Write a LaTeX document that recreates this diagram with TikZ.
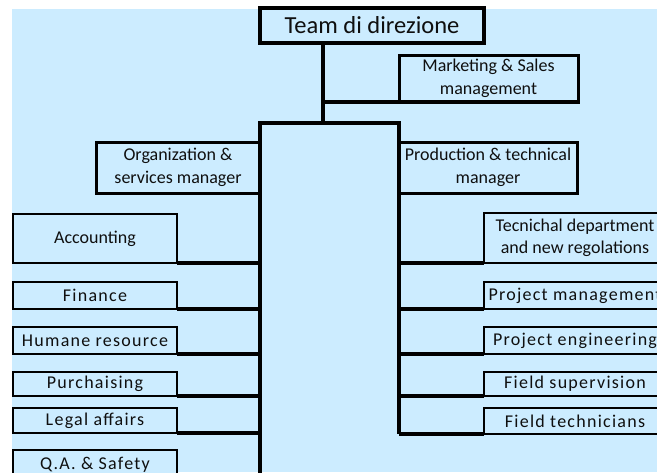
\documentclass[tikz,border=0pt]{standalone}
\usepackage{fontspec}
\setmainfont{Carlito}
\newfontfamily\spacedfont[LetterSpace=7]{Carlito}
\definecolor{bgblue}{RGB}{204,236,255}
\definecolor{ink}{RGB}{15,15,15}
\begin{document}
\begin{tikzpicture}[x=1pt,y=-1pt,
  box/.style={draw=black, fill=bgblue, line width=1.7pt, inner sep=0pt, outer sep=0pt,
    anchor=north west, align=center, text=ink, font=\fontsize{18}{22.5}\selectfont},
  thickbox/.style={box, line width=3pt},
  leftbox/.style={box, minimum width=164pt},
  rightbox/.style={box, minimum width=182pt},
  sp/.style={font=\fontsize{18}{22.5}\spacedfont},
  link/.style={line width=3.2pt}
]
\useasboundingbox (0,0) rectangle (657,472);
\clip (0,0) rectangle (657,472);
\fill[bgblue] (12,9) rectangle (657,472);

% top
\node[box, line width=3.5pt, minimum width=224pt, minimum height=35pt,
      font=\fontsize{24.5}{28}\selectfont] (team) at (260,8) {Team di direzione};
\node[thickbox, minimum width=179pt, minimum height=47pt] (mkt) at (399,55)
      {Marketing \& Sales\\management};
\node[inner sep=0pt, outer sep=0pt, minimum width=139pt, minimum height=360pt,
      anchor=north west] (core) at (260,123) {};
\coordinate (drop) at (323,43);

% managers
\node[thickbox, minimum width=164pt, minimum height=51pt] (org) at (96,142)
      {Organization \&\\services manager};
\node[thickbox, minimum width=178pt, minimum height=51pt] (prod) at (399,142)
      {Production \& technical\\manager};

% left column
\node[leftbox, minimum height=49pt] (acc) at (13,214) {Accounting};
\node[leftbox, sp, minimum height=27pt] (fin) at (13,282) {Finance};
\node[leftbox, sp, minimum height=27pt] (hum) at (13,327) {Humane resource};
\node[leftbox, sp, minimum height=24pt] (pur) at (13,372) {Purchaising};
\node[leftbox, sp, minimum height=25pt] (leg) at (13,408) {Legal affairs};
\node[leftbox, sp, minimum height=30pt] (qa) at (13,450) {Q.A. \& Safety};

% right column
\node[rightbox, minimum height=50pt] (tec) at (484,213) {Tecnichal department\\and new regolations};
\node[rightbox, sp, minimum height=27pt] (pm) at (484,282) {Project management};
\node[rightbox, sp, minimum height=27pt] (pe) at (484,327) {Project engineering};
\node[rightbox, sp, minimum height=24pt] (fs) at (484,372) {Field supervision};
\node[rightbox, sp, minimum height=26pt] (ft) at (484,408) {Field technicians};

% connectors
\draw[link] (drop) -- (drop |- core.north);
\draw[link] (drop |- mkt.south) -- ([xshift=2pt]mkt.south east);
\draw[link] (core.south west) -- (core.north west) -- (core.north east) -- (core.east |- ft.south);
\foreach \n in {acc,fin,hum,pur,leg}
  \draw[link] (\n.south east) -- (\n.south east -| core.west);
\foreach \n in {tec,pm,pe,fs,ft}
  \draw[link] (\n.south west) -- (\n.south west -| core.east);
\end{tikzpicture}
\end{document}
